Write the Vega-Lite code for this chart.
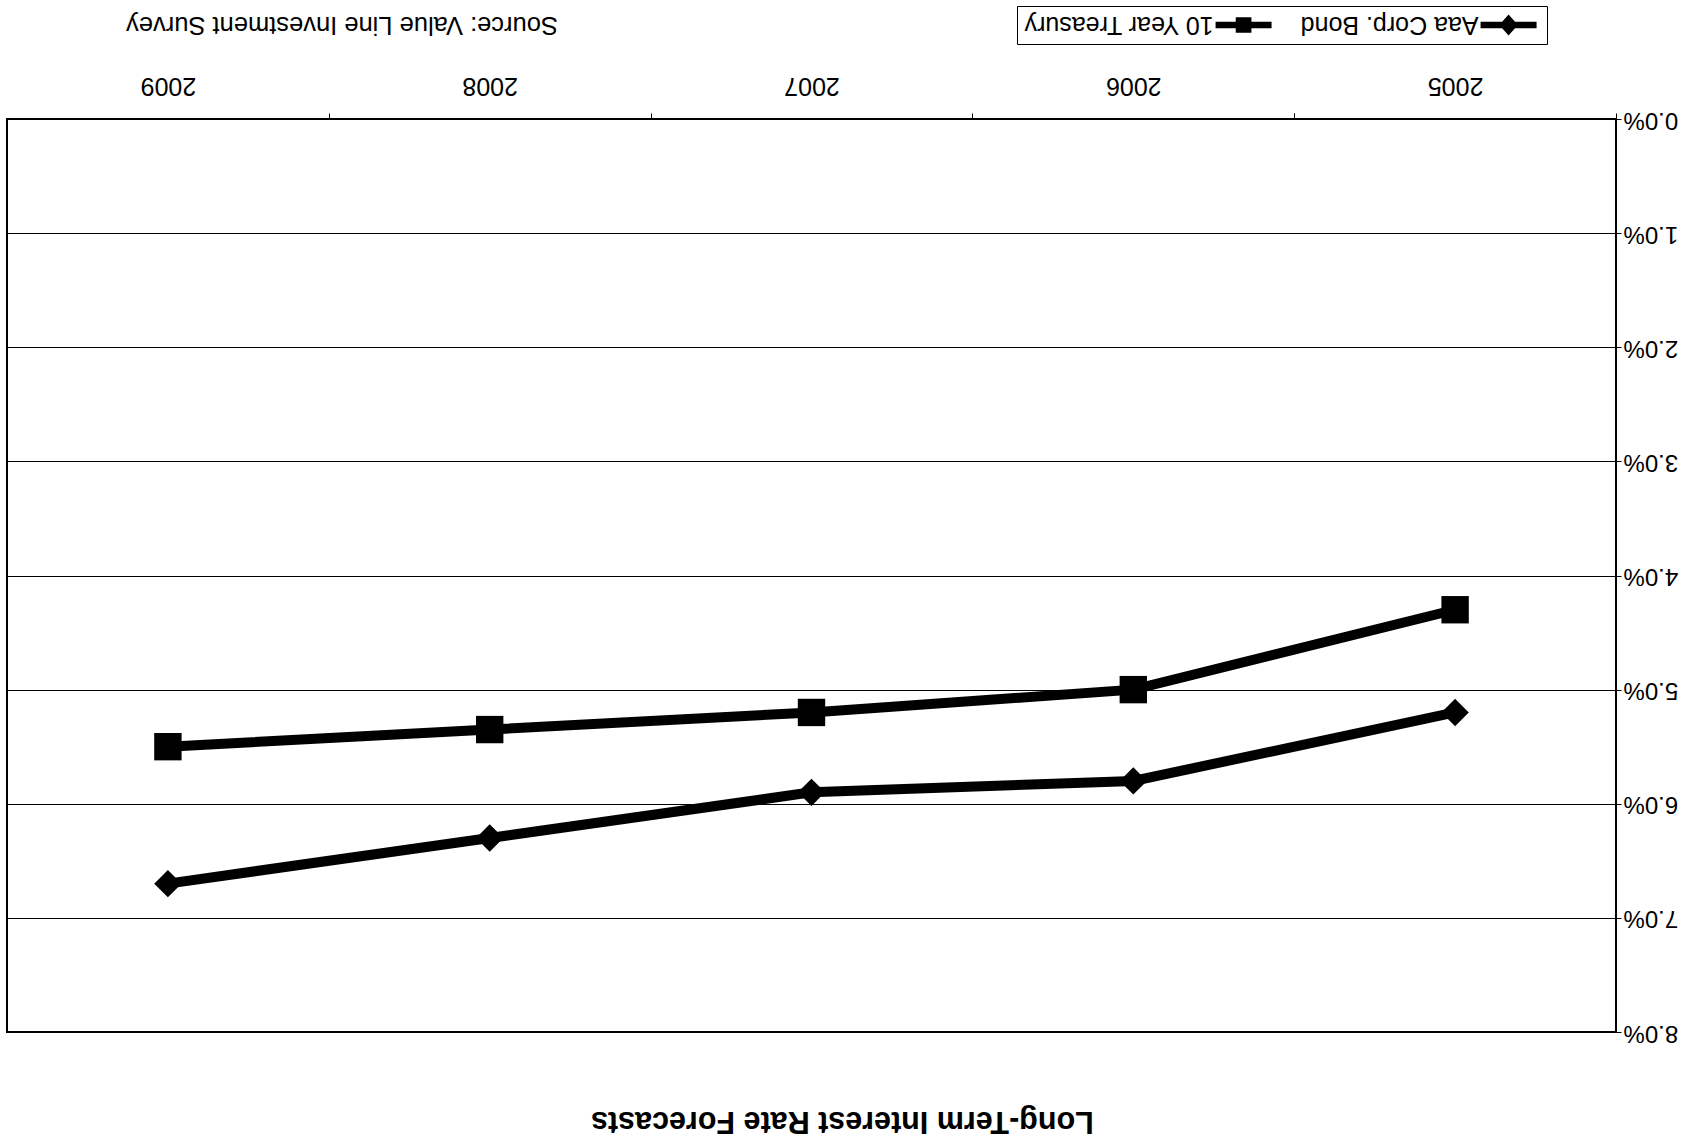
{
  "$schema": "https://vega.github.io/schema/vega-lite/v6.json",
  "padding": {"left": 5, "top": 5, "right": 5, "bottom": 5},
  "background": "white",
  "config": {
    "font": "Liberation Sans",
    "view": {"stroke": "black", "strokeWidth": 2}
  },
  "title": {
    "text": "Long-Term Interest Rate Forecasts",
    "orient": "bottom",
    "anchor": "middle",
    "angle": 180,
    "baseline": "bottom",
    "fontSize": 30.5,
    "fontWeight": "bold",
    "font": "Liberation Sans",
    "color": "black",
    "offset": 61
  },
  "spacing": 25,
  "resolve": {"scale": {"shape": "independent", "x": "independent", "y": "independent"}, "legend": {"shape": "independent"}},
  "vconcat": [
    {
      "spacing": 339,
      "hconcat": [
        {
          "width": 670,
          "height": 38,
          "view": {"stroke": null},
          "data": {"values": [{"note": "Source: Value Line Investment Survey"}]},
          "mark": {"type": "text", "angle": 180, "fontSize": 25.5, "color": "black", "baseline": "middle", "align": "center"},
          "encoding": {"text": {"field": "note", "type": "nominal"}}
        },
        {
          "width": 530,
          "height": 38,
          "view": {"stroke": "black", "strokeWidth": 1},
          "data": {"values": [{"series": "10 Year Treasury"}, {"series": "Aaa Corp. Bond"}]},
          "encoding": {
            "x": {
              "field": "series",
              "type": "nominal",
              "bandPosition": 0.855,
              "scale": {"type": "band", "paddingInner": 0, "paddingOuter": 0},
              "axis": null
            }
          },
          "layer": [
            {
              "mark": {"type": "point", "filled": true, "color": "black", "opacity": 1, "size": 1394, "strokeWidth": 0},
              "encoding": {
                "shape": {
                  "field": "series",
                  "type": "nominal",
                  "scale": {
                    "domain": ["10 Year Treasury", "Aaa Corp. Bond"],
                    "range": [
                      "M-1.5,-0.17H1.5V0.17H-1.5Z M-0.42,-0.42H0.42V0.42H-0.42Z",
                      "M-1.5,-0.17H1.5V0.17H-1.5Z M0,-0.56L0.5,0L0,0.56L-0.5,0Z"
                    ]
                  },
                  "legend": null
                }
              }
            },
            {
              "mark": {"type": "text", "angle": 180, "align": "left", "baseline": "middle", "dx": 30, "fontSize": 25, "color": "black"},
              "encoding": {"text": {"field": "series", "type": "nominal"}}
            }
          ]
        }
      ]
    },
    {
      "width": 1609,
      "height": 913,
      "data": {
        "values": [
          {"year": "2005", "series": "10 Year Treasury", "rate": 4.3},
          {"year": "2006", "series": "10 Year Treasury", "rate": 5.0},
          {"year": "2007", "series": "10 Year Treasury", "rate": 5.2},
          {"year": "2008", "series": "10 Year Treasury", "rate": 5.35},
          {"year": "2009", "series": "10 Year Treasury", "rate": 5.5},
          {"year": "2005", "series": "Aaa Corp. Bond", "rate": 5.2},
          {"year": "2006", "series": "Aaa Corp. Bond", "rate": 5.8},
          {"year": "2007", "series": "Aaa Corp. Bond", "rate": 5.9},
          {"year": "2008", "series": "Aaa Corp. Bond", "rate": 6.3},
          {"year": "2009", "series": "Aaa Corp. Bond", "rate": 6.7}
        ]
      },
      "encoding": {
        "x": {
          "field": "year",
          "type": "ordinal",
          "scale": {"type": "band", "paddingInner": 0, "paddingOuter": 0, "reverse": true},
          "axis": {
            "orient": "top",
            "labelAngle": 180,
            "labelBaseline": "top",
            "labelAlign": "center",
            "labelFontSize": 25,
            "labelColor": "black",
            "labelPadding": 16,
            "tickBand": "extent",
            "tickSize": 6,
            "tickColor": "black",
            "domain": false,
            "grid": false,
            "title": null
          }
        },
        "y": {
          "field": "rate",
          "type": "quantitative",
          "scale": {"domain": [0, 8], "reverse": true, "nice": false, "zero": false},
          "axis": {
            "orient": "right",
            "values": [0, 1, 2, 3, 4, 5, 6, 7, 8],
            "labelExpr": "format(datum.value, '.1f') + '%'",
            "labelAngle": 180,
            "labelAlign": "right",
            "labelBaseline": "middle",
            "labelFontSize": 24,
            "labelColor": "black",
            "labelPadding": 2,
            "tickSize": 5,
            "tickColor": "black",
            "domain": false,
            "grid": true,
            "gridColor": "black",
            "gridWidth": 1,
            "gridOpacity": 1,
            "title": null
          }
        }
      },
      "layer": [
        {
          "mark": {"type": "line", "color": "black", "strokeWidth": 10},
          "encoding": {"detail": {"field": "series", "type": "nominal"}}
        },
        {
          "mark": {"type": "point", "filled": true, "color": "black", "opacity": 1, "size": 750},
          "encoding": {
            "shape": {
              "field": "series",
              "type": "nominal",
              "scale": {"domain": ["10 Year Treasury", "Aaa Corp. Bond"], "range": ["square", "diamond"]},
              "legend": null
            }
          }
        }
      ]
    }
  ]
}
